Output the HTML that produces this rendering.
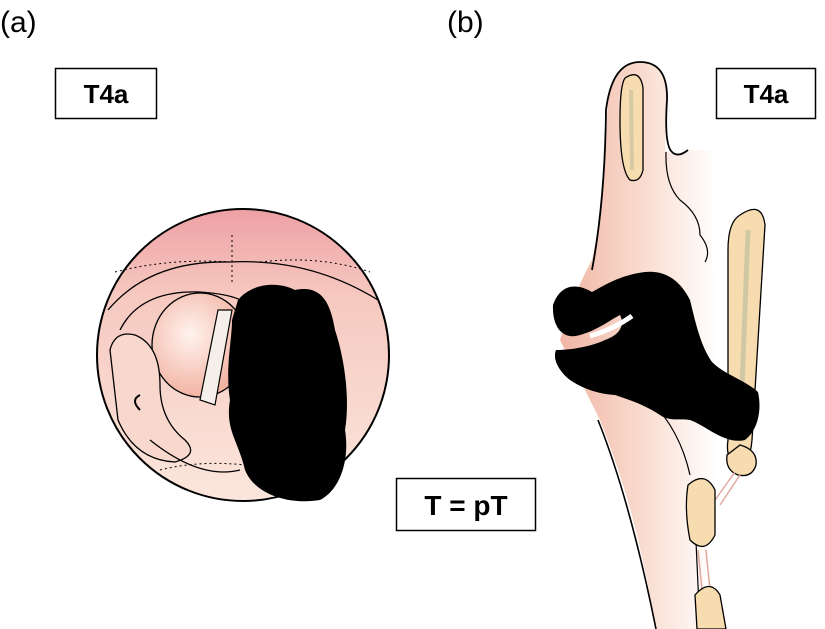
<!DOCTYPE html>
<html><head><meta charset="utf-8"><style>
html,body{margin:0;padding:0;background:#fff;width:825px;height:629px;overflow:hidden}
svg{display:block}
text{font-family:"Liberation Sans",Arial,sans-serif}
</style></head><body>
<svg width="825" height="629" viewBox="0 0 825 629" xmlns="http://www.w3.org/2000/svg">
<defs>
<linearGradient id="cg" x1="0" y1="0" x2="0" y2="1">
<stop offset="0" stop-color="#eea0a4"/><stop offset="0.3" stop-color="#f6c9c0"/><stop offset="1" stop-color="#fbe6dc"/>
</linearGradient>
<radialGradient id="ball" cx="0.4" cy="0.4" r="0.6">
<stop offset="0" stop-color="#fff3ee"/><stop offset="1" stop-color="#f2b3a3"/>
</radialGradient>
<linearGradient id="bg" x1="0" y1="0" x2="1" y2="0">
<stop offset="0" stop-color="#f0b4a4"/><stop offset="0.45" stop-color="#f9dccf"/><stop offset="0.85" stop-color="#fff"/>
</linearGradient>
</defs>
<text x="0" y="32" font-size="30">(a)</text>
<text x="447" y="32" font-size="30">(b)</text>
<rect x="55.5" y="68.5" width="101" height="50" fill="#fff" stroke="#000" stroke-width="1.5"/>
<text x="106" y="103" font-size="26" font-weight="bold" text-anchor="middle">T4a</text>
<rect x="716.5" y="68.5" width="99" height="50" fill="#fff" stroke="#000" stroke-width="1.5"/>
<text x="766" y="103" font-size="26" font-weight="bold" text-anchor="middle">T4a</text>
<rect x="396.5" y="478.5" width="139" height="52" fill="#fff" stroke="#000" stroke-width="1.5"/>
<text x="466" y="515" font-size="28" font-weight="bold" text-anchor="middle">T = pT</text>

<!-- (a) circle -->
<circle cx="243" cy="355" r="146" fill="url(#cg)" stroke="#000" stroke-width="2"/>
<path d="M108 310 Q150 260 230 262 Q310 258 378 300" fill="none" stroke="#000" stroke-width="1.3"/>
<path d="M115 272 Q170 258 230 262 M260 262 Q320 255 370 272" fill="none" stroke="#000" stroke-width="1" stroke-dasharray="2,3"/>
<path d="M120 330 Q140 290 200 292 Q260 296 250 320" fill="none" stroke="#000" stroke-width="1.3"/>
<ellipse cx="200" cy="345" rx="48" ry="52" fill="url(#ball)" stroke="#000" stroke-width="1.3"/>
<path d="M110 350 Q115 330 135 335 Q160 345 160 385 Q160 420 185 440 Q200 455 175 462 Q135 460 118 420 Z" fill="#f8d7cc" stroke="#000" stroke-width="1.3"/>
<path d="M140 410 Q130 400 140 395" fill="none" stroke="#000" stroke-width="2"/>
<path d="M150 440 Q200 480 240 470" fill="none" stroke="#000" stroke-width="1.3"/>
<path d="M160 470 Q200 460 245 465" fill="none" stroke="#000" stroke-width="1" stroke-dasharray="2,3"/>
<path d="M218 310 L232 310 L215 405 L200 400 Z" fill="#f4efe8" stroke="#000" stroke-width="1.2"/>
<path d="M232 235 L232 285" stroke="#000" stroke-width="1" stroke-dasharray="2,3"/>
<path d="M238 300 C250 285 275 280 295 290 C320 285 330 300 335 330 C345 360 350 400 345 430 C350 460 340 490 320 500 C290 505 255 495 245 470 C238 440 225 430 230 400 C225 370 232 340 232 320 Z" fill="#000"/>

<!-- (b) larynx -->
<!-- body fill (no outline on right) -->
<path d="M608 95 Q615 62 640 62 Q668 62 667 100 L665 150 Q680 160 690 150 L710 150 L715 300 L720 330 L745 440 L715 480 L700 629 L655 629 Q640 520 600 420 L560 340 Q575 290 592 260 Q605 200 608 95 Z" fill="url(#bg)"/>
<path d="M592 270 Q605 200 606 110 Q612 62 640 62 Q668 62 667 100 Q664 145 672 152 Q678 158 688 150" fill="none" stroke="#000" stroke-width="1.8"/>
<path d="M666 152 Q665 185 680 200 Q700 215 700 235 Q712 250 705 262" fill="none" stroke="#000" stroke-width="1.2"/>
<path d="M598 420 Q630 500 656 629" fill="none" stroke="#000" stroke-width="1.6"/>
<path d="M650 400 Q680 430 690 475" fill="none" stroke="#000" stroke-width="1.2"/>
<path d="M695 520 L700 629" fill="none" stroke="#000" stroke-width="1.2"/>
<path d="M625 78 Q640 68 643 88 L643 170 Q640 183 630 180 Q620 170 620 120 Q620 85 625 78 Z" fill="#f7dcb0" stroke="#000" stroke-width="1.3"/>
<path d="M631 90 L632 170" stroke="#d6c9a3" stroke-width="4"/>
<path d="M740 215 Q762 200 765 225 L752 440 Q750 465 738 465 Q725 460 728 440 L728 250 Q728 222 740 215 Z" fill="#f7dcb0" stroke="#000" stroke-width="1.3"/>
<path d="M748 230 L740 440" stroke="#d0c8a5" stroke-width="5"/>
<path d="M740 445 Q758 450 756 465 Q752 478 738 475 Q725 470 727 455 Z" fill="#f7dcb0" stroke="#000" stroke-width="1.3"/>
<path d="M715 500 L735 472 M720 505 L740 475" stroke="#e0a8a0" stroke-width="1.5"/>
<path d="M688 485 Q705 470 715 490 L715 535 Q705 555 690 540 Q684 510 688 485 Z" fill="#f7dcb0" stroke="#000" stroke-width="1.3"/>
<path d="M698 550 L702 590 M706 550 L710 590" stroke="#e0a8a0" stroke-width="1.5"/>
<path d="M695 595 Q710 578 720 595 L726 629 L697 629 Z" fill="#f7dcb0" stroke="#000" stroke-width="1.3"/>
<!-- tumour -->
<path d="M553 305 C560 285 575 282 592 292 C605 285 620 275 645 272 C665 270 680 280 690 300 C695 320 700 345 712 362 C725 375 745 380 758 392 C762 410 758 430 745 440 C725 445 705 425 690 420 C680 418 670 422 660 415 C645 405 630 400 615 395 C600 394 585 390 570 380 C560 372 552 360 556 350 C575 350 595 345 605 340 C620 335 625 325 620 315 C610 320 598 330 580 335 C565 340 552 330 553 305 Z" fill="#000"/>
<path d="M590 336 Q612 330 632 316" stroke="#fff" stroke-width="5" fill="none"/>
</svg>
</body></html>
